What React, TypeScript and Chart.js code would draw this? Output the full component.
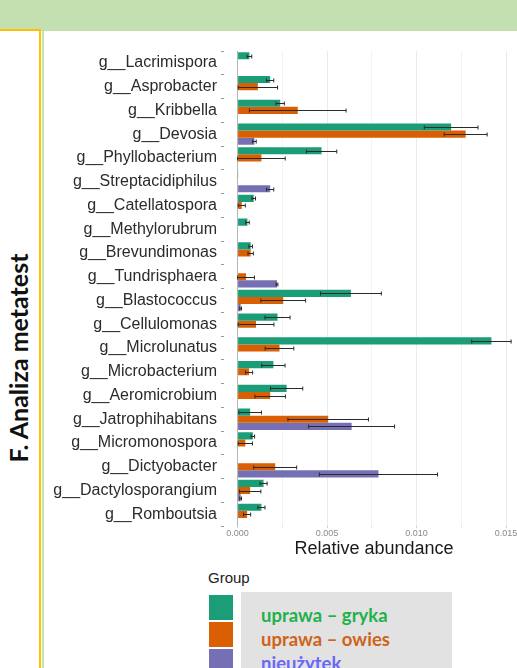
import React, { useEffect, useRef } from "react";
import { Chart, registerables } from "chart.js";

Chart.register(...registerables);

// ---------- data ----------
const categories = [
  "g__Lacrimispora",
  "g__Asprobacter",
  "g__Kribbella",
  "g__Devosia",
  "g__Phyllobacterium",
  "g__Streptacidiphilus",
  "g__Catellatospora",
  "g__Methylorubrum",
  "g__Brevundimonas",
  "g__Tundrisphaera",
  "g__Blastococcus",
  "g__Cellulomonas",
  "g__Microlunatus",
  "g__Microbacterium",
  "g__Aeromicrobium",
  "g__Jatrophihabitans",
  "g__Micromonospora",
  "g__Dictyobacter",
  "g__Dactylosporangium",
  "g__Romboutsia",
];

const grykaValues = [
  0.00066, 0.00182, 0.00238, 0.01193, 0.00469, 0.00002, 0.0009, 0.00055, 0.00073, 0.0,
  0.00633, 0.00223, 0.01418, 0.002, 0.00274, 0.0007, 0.00085, 0.0, 0.00145, 0.00133,
];
const grykaErrors = [
  0.00013, 0.0002, 0.00023, 0.0015, 0.00085, 0.0, 0.0001, 0.0001, 0.0001, 0.0,
  0.0017, 0.0007, 0.0011, 0.00065, 0.0009, 0.00063, 0.0001, 0.0, 0.0002, 0.0002,
];

const owiesValues = [
  0.0, 0.00113, 0.00336, 0.01274, 0.00133, 0.0, 0.00023, 0.0, 0.00073, 0.00047,
  0.00255, 0.00103, 0.00234, 0.00064, 0.00182, 0.00506, 0.00043, 0.0021, 0.0007, 0.00053,
];
const owiesErrors = [
  0.0, 0.0011, 0.0027, 0.0012, 0.00133, 0.0, 0.0002, 0.0, 0.00015, 0.00047,
  0.00125, 0.001, 0.0008, 0.0002, 0.00085, 0.00225, 0.0004, 0.0012, 0.0006, 0.0002,
];

const nieuzytekValues = [
  0.0, 0.0, 0.0, 0.00094, 0.0, 0.00182, 0.0, 0.0, 0.0, 0.0022,
  0.00017, 0.0, 0.0, 0.0, 0.0, 0.00637, 0.0, 0.00787, 0.00017, 0.0,
];
const nieuzytekErrors = [
  0.0, 0.0, 0.0, 0.0001, 0.0, 0.0002, 0.0, 0.0, 0.0, 0.00005,
  0.00005, 0.0, 0.0, 0.0, 0.0, 0.0024, 0.0, 0.0033, 0.00005, 0.0,
];

const groupNames = ["uprawa – gryka", "uprawa – owies", "nieużytek"];
const xTickLabels = [0, 0.005, 0.01, 0.015];

const barColors = ["#1b9e77", "#d95f02", "#7570b3"];
const legendTextColors = ["#22b04b", "#cf6318", "#6a66f7"];

const errorSets = [grykaErrors, owiesErrors, nieuzytekErrors];

const errorBarPlugin = {
  id: "errorBars",
  afterDatasetsDraw(chart: any) {
    const ctx = chart.ctx;
    const xScale = chart.scales.x;
    ctx.save();
    ctx.strokeStyle = "#2a2a2a";
    ctx.lineWidth = 1;
    chart.data.datasets.forEach((ds: any, di: number) => {
      const meta = chart.getDatasetMeta(di);
      const errs = errorSets[di];
      meta.data.forEach((bar: any, i: number) => {
        const v = ds.data[i];
        const e = errs[i];
        if (!e) return;
        const y = Math.round(bar.y) + 0.5;
        const xa = xScale.getPixelForValue(Math.max(0, v - e));
        const xb = xScale.getPixelForValue(v + e);
        const cap = 2;
        ctx.beginPath();
        ctx.moveTo(xa, y);
        ctx.lineTo(xb, y);
        ctx.moveTo(xa, y - cap);
        ctx.lineTo(xa, y + cap);
        ctx.moveTo(xb, y - cap);
        ctx.lineTo(xb, y + cap);
        ctx.stroke();
      });
    });
    ctx.restore();
  },
};

function BarChart() {
  const ref = useRef<HTMLCanvasElement | null>(null);
  useEffect(() => {
    if (!ref.current) return;
    const isMajor = (v: number) =>
      xTickLabels.some((t) => Math.abs(t - v) < 1e-9);
    const chart = new Chart(ref.current, {
      type: "bar",
      data: {
        labels: categories,
        datasets: [
          { label: groupNames[0], data: grykaValues, backgroundColor: barColors[0] },
          { label: groupNames[1], data: owiesValues, backgroundColor: barColors[1] },
          { label: groupNames[2], data: nieuzytekValues, backgroundColor: barColors[2] },
        ],
      },
      options: {
        indexAxis: "y",
        animation: false,
        responsive: false,
        maintainAspectRatio: false,
        devicePixelRatio: 1,
        layout: { padding: { top: 20, bottom: 2, left: 0, right: 0 } },
        datasets: {
          bar: { categoryPercentage: 0.9, barPercentage: 1.0, borderWidth: 0 },
        },
        plugins: {
          legend: { display: false },
          tooltip: { enabled: false },
        },
        scales: {
          x: {
            type: "linear",
            min: -0.00076,
            max: 0.016,
            border: { display: false },
            grid: {
              color: (c: any) => (c.tick && Math.abs(c.tick.value) < 1e-9 ? "#b5b5b5" : "#ebebeb"),
              lineWidth: (c: any) => (c.tick && isMajor(c.tick.value) ? 1 : 0.6),
              drawTicks: true,
              tickLength: 2,
              tickColor: "#d0d0d0",
            },
            ticks: {
              stepSize: 0.0025,
              includeBounds: false,
              padding: 0,
              maxRotation: 0,
              autoSkip: false,
              color: "#8a8a8a",
              font: { family: "Arial, 'Liberation Sans'", size: 9 },
              callback: (v: any) => (isMajor(Number(v)) ? Number(v).toFixed(3) : ""),
            },
            title: {
              display: true,
              text: "Relative abundance",
              color: "#1a1a1a",
              font: { family: "Arial, 'Liberation Sans'", size: 18, lineHeight: 1 },
              padding: { top: 1, bottom: 0 },
            },
          },
          y: {
            type: "category",
            border: { display: false },
            grid: {
              drawOnChartArea: false,
              drawTicks: true,
              tickLength: 3,
              tickColor: "#9a9a9a",
            },
            ticks: {
              padding: 4,
              color: "#2b2b2b",
              autoSkip: false,
              font: { family: "Arial, 'Liberation Sans'", size: 16 },
            },
            afterFit: (scale: any) => {
              scale.width = 180;
            },
          },
        },
      },
      plugins: [errorBarPlugin],
    } as any);
    return () => chart.destroy();
  }, []);
  return <canvas ref={ref} width={480} height={529} style={{ width: 480, height: 529, display: "block" }} />;
}

export default function App() {
  const band = "#c4dfb0";
  const yellow = "#ffc000";
  return (
    <div
      style={{
        position: "absolute",
        left: 0,
        top: 0,
        width: 517,
        height: 668,
        overflow: "hidden",
        background: "#ffffff",
      }}
    >
      <div style={{ position: "absolute", left: 0, top: 0, width: 517, height: 31, background: band }} />
      <div style={{ position: "absolute", left: 0, top: 29, width: 41, height: 2, background: yellow }} />
      <div style={{ position: "absolute", left: 39, top: 29, width: 2, height: 639, background: yellow }} />
      <div style={{ position: "absolute", left: 42, top: 31, width: 2, height: 637, background: band }} />
      <div
        style={{
          position: "absolute",
          left: 18,
          top: 358,
          transform: "translate(-50%, -50%) rotate(-90deg)",
          whiteSpace: "nowrap",
          fontFamily: "Lato, 'Open Sans', sans-serif",
          fontWeight: 700,
          fontSize: 25,
          lineHeight: "28px",
          color: "#111",
        }}
      >
        F. Analiza metatest
      </div>
      <div style={{ position: "absolute", left: 44, top: 31 }}>
        <BarChart />
      </div>
      {/* legend */}
      <div
        style={{
          position: "absolute",
          left: 208,
          top: 569,
          fontFamily: "Arial, 'Liberation Sans'",
          fontSize: 15,
          color: "#222",
          lineHeight: "18px",
        }}
      >
        Group
      </div>
      {barColors.map((c, i) => (
        <div
          key={c}
          style={{
            position: "absolute",
            left: 209,
            top: 595 + i * 27,
            width: 24,
            height: 25,
            background: c,
          }}
        />
      ))}
      <div style={{ position: "absolute", left: 241, top: 592, width: 211, height: 76, background: "#e2e2e2" }} />
      {groupNames.map((g, i) => (
        <div
          key={g}
          style={{
            position: "absolute",
            left: 261,
            top: 603 + i * 24,
            fontFamily: "Lato, 'Open Sans', sans-serif",
            fontWeight: 700,
            fontSize: 18.5,
            lineHeight: "24px",
            color: legendTextColors[i],
            whiteSpace: "nowrap",
          }}
        >
          {g}
        </div>
      ))}
    </div>
  );
}
